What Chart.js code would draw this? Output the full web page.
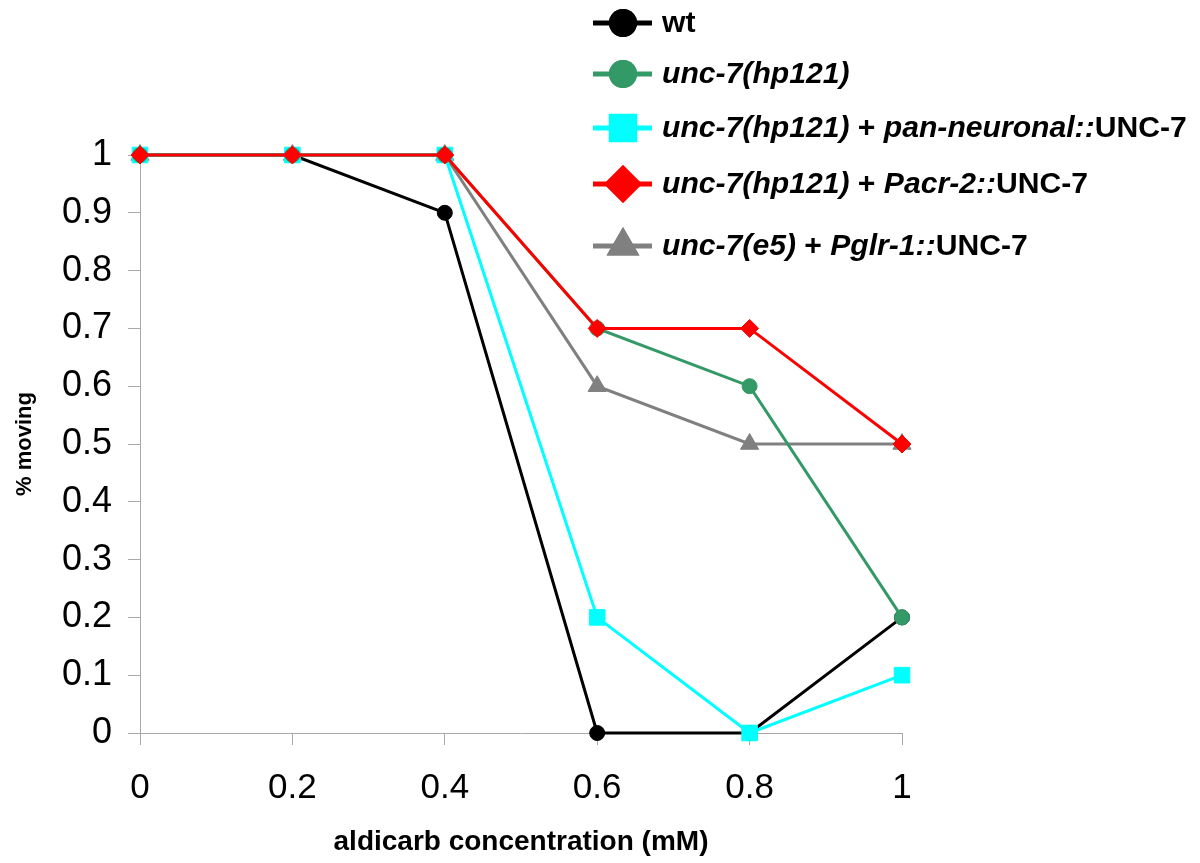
<!DOCTYPE html>
<html>
<head>
<meta charset="utf-8">
<script src="https://cdn.jsdelivr.net/npm/chart.js@4/dist/chart.umd.min.js"></script>
<style>
  html, body { margin: 0; padding: 0; background: #fff; }
  #wrap { width: 1200px; height: 863px; }
</style>
</head>
<body>
<div id="wrap"><canvas id="c" width="1200" height="863"></canvas></div>
<script>
// ---- data ----
const concentrations = [0, 0.2, 0.4, 0.6, 0.8, 1];
const wt          = [1, 1, 0.9, 0, 0, 0.2];
const hp121       = [1, 1, 1, 0.7, 0.6, 0.2];
const panNeuronal = [1, 1, 1, 0.2, 0, 0.1];
const pacr2       = [1, 1, 1, 0.7, 0.7, 0.5];
const pglr1       = [1, 1, 1, 0.6, 0.5, 0.5];
const xTicks = [0, 0.2, 0.4, 0.6, 0.8, 1];
const yTicks = [0, 0.1, 0.2, 0.3, 0.4, 0.5, 0.6, 0.7, 0.8, 0.9, 1];
// legend labels: [text, italic]
const legendWt   = [["wt", false]];
const legendHp   = [["unc-7(hp121)", true]];
const legendPan  = [["unc-7(hp121)", true], [" + ", false], ["pan-neuronal::", true], ["UNC-7", false]];
const legendPacr = [["unc-7(hp121)", true], [" + ", false], ["Pacr-2::", true], ["UNC-7", false]];
const legendPglr = [["unc-7(e5)", true], [" + ", false], ["Pglr-1::", true], ["UNC-7", false]];

const toPts = arr => arr.map((v, i) => ({ x: concentrations[i], y: v }));

function ds(data, color, style, radius, order, legendLabel, legendRadius, legendY) {
  return {
    data: toPts(data),
    borderColor: color,
    backgroundColor: color,
    borderWidth: 3,
    pointStyle: style,
    pointRadius: radius,
    pointBackgroundColor: color,
    pointBorderColor: color,
    pointBorderWidth: 1,
    order: order,
    clip: false,
    tension: 0,
    legendLabel, legendRadius, legendY
  };
}

const datasets = [
  ds(wt, '#000000', 'circle', 7.5, 4, legendWt, 14, 23),
  ds(hp121, '#339966', 'circle', 7.5, 1, legendHp, 14, 74),
  ds(panNeuronal, '#00FFFF', 'rect', 11, 2, legendPan, 20, 128),
  ds(pacr2, '#FF0000', 'rectRot', 9, 0, legendPacr, 19, 184),
  ds(pglr1, '#808080', 'triangle', 10.5, 3, legendPglr, 19, 246)
];

const legendPlugin = {
  id: 'customLegend',
  afterDraw(chart) {
    const ctx = chart.ctx;
    const lineX0 = 593, lineX1 = 652, markX = 623, textX = 662;
    const fam = "'Liberation Sans', Arial, Helvetica, sans-serif";
    ctx.save();
    let longest = 0;
    chart.data.datasets.forEach(d => {
      let w = 0;
      d.legendLabel.forEach(([t, it]) => {
        ctx.font = (it ? 'italic ' : '') + 'bold 100px ' + fam;
        w += ctx.measureText(t).width;
      });
      longest = Math.max(longest, w);
    });
    const size = Math.min(32, 100 * 525 / longest);
    chart.data.datasets.forEach(d => {
      const y = d.legendY;
      ctx.strokeStyle = d.borderColor;
      ctx.lineWidth = 5;
      ctx.beginPath();
      ctx.moveTo(lineX0, y);
      ctx.lineTo(lineX1, y);
      ctx.stroke();
      ctx.fillStyle = d.borderColor;
      Chart.helpers.drawPoint(ctx, {
        pointStyle: d.pointStyle, radius: d.legendRadius, rotation: 0, borderWidth: 0
      }, markX, y);
      ctx.fill();
      let x = textX;
      ctx.fillStyle = '#000';
      ctx.textBaseline = 'middle';
      ctx.textAlign = 'left';
      d.legendLabel.forEach(([t, it]) => {
        ctx.font = (it ? 'italic ' : '') + 'bold ' + size + 'px ' + fam;
        ctx.fillText(t, x, y + 1);
        x += ctx.measureText(t).width;
      });
    });
    ctx.restore();
  }
};

const sans = "'Liberation Sans', Arial, Helvetica, sans-serif";
const axisGray = '#a8a8a8';

new Chart(document.getElementById('c'), {
  type: 'line',
  data: { datasets },
  plugins: [legendPlugin],
  options: {
    responsive: false,
    animation: false,
    devicePixelRatio: 1,
    layout: { padding: { top: 155, right: 298, bottom: 0, left: 0 } },
    plugins: { legend: { display: false }, tooltip: { enabled: false } },
    scales: {
      x: {
        type: 'linear',
        min: 0, max: 1,
        afterBuildTicks: s => { s.ticks = xTicks.map(v => ({ value: v })); },
        afterFit: s => { s.height = 130; },
        grid: { drawOnChartArea: false, tickLength: 12, color: axisGray, lineWidth: 1 },
        border: { color: axisGray, width: 1 },
        ticks: {
          color: '#000', padding: 22,
          font: { family: sans, size: 35 },
          callback: v => String(+v.toFixed(1))
        },
        title: {
          display: true, text: 'aldicarb concentration (mM)', color: '#000',
          font: { family: sans, size: 28, weight: 'bold' },
          padding: { top: 0, bottom: 4 }
        }
      },
      y: {
        type: 'linear',
        min: 0, max: 1,
        afterBuildTicks: s => { s.ticks = yTicks.map(v => ({ value: v })); },
        afterFit: s => { s.width = 140; },
        grid: { drawOnChartArea: false, tickLength: 12, color: axisGray, lineWidth: 1 },
        border: { color: axisGray, width: 1 },
        ticks: {
          color: '#000', padding: 16,
          font: { family: sans, size: 36 },
          callback: v => String(+v.toFixed(1))
        },
        title: {
          display: true, text: '% moving', color: '#000',
          font: { family: sans, size: 22, weight: 'bold' },
          padding: { top: 12, bottom: 0 }
        }
      }
    }
  }
});
</script>
</body>
</html>
